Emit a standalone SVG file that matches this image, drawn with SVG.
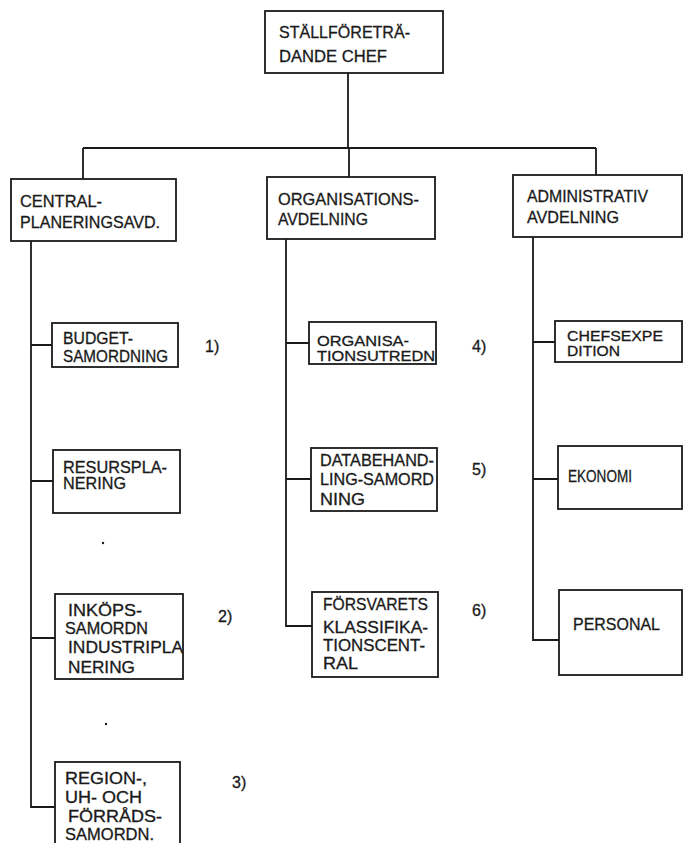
<svg xmlns="http://www.w3.org/2000/svg" width="683" height="843" viewBox="0 0 683 843">
<style>
.box{fill:#fff;stroke:#1a1a1a;stroke-width:1.8}
.ln{fill:none;stroke:#1a1a1a;stroke-width:1.8}
text{font-family:"Liberation Sans","DejaVu Sans",sans-serif;font-size:16px;fill:#1a1a1a;stroke:#1a1a1a;stroke-width:0.3}
.big{font-size:16.5px}
.sm{font-size:14.5px}
</style>
<rect width="683" height="843" fill="#fff"/>
<g id="connectors">
<path class="ln" d="M348 73V148M83 148H596M83 148V179M349 148V177M596 148V175"/>
<path class="ln" d="M31 241V807H55M31 345H52M31 481H53M31 638H55"/>
<path class="ln" d="M286 239V626H312M286 343H309M286 479H311"/>
<path class="ln" d="M533 237V640H559M533 342H555M533 479H558"/>
</g>
<g id="chef">
<rect class="box" x="265" y="11" width="178" height="62"/>
<text class="big" x="279" y="38" textLength="131" lengthAdjust="spacingAndGlyphs">STÄLLFÖRETRÄ-</text>
<text class="big" x="279" y="62" textLength="108" lengthAdjust="spacingAndGlyphs">DANDE CHEF</text>
</g>
<g id="central">
<rect class="box" x="11" y="179" width="165" height="62"/>
<text class="big" x="20" y="207" textLength="82" lengthAdjust="spacingAndGlyphs">CENTRAL-</text>
<text class="big" x="20" y="228" textLength="140" lengthAdjust="spacingAndGlyphs">PLANERINGSAVD.</text>
</g>
<g id="organisation">
<rect class="box" x="267" y="177" width="168" height="62"/>
<text class="big" x="278" y="205" textLength="141" lengthAdjust="spacingAndGlyphs">ORGANISATIONS-</text>
<text class="big" x="278" y="225" textLength="90" lengthAdjust="spacingAndGlyphs">AVDELNING</text>
</g>
<g id="administrativ">
<rect class="box" x="513" y="175" width="169" height="62"/>
<text class="big" x="527" y="202" textLength="121" lengthAdjust="spacingAndGlyphs">ADMINISTRATIV</text>
<text class="big" x="527" y="223" textLength="92" lengthAdjust="spacingAndGlyphs">AVDELNING</text>
</g>
<g id="budget">
<rect class="box" x="52" y="323" width="126" height="44"/>
<text x="63" y="344" textLength="70" lengthAdjust="spacingAndGlyphs">BUDGET-</text>
<text x="63" y="362" textLength="105" lengthAdjust="spacingAndGlyphs">SAMORDNING</text>
<text x="205" y="352">1)</text>
</g>
<g id="resurs">
<rect class="box" x="53" y="450" width="127" height="63"/>
<text x="63" y="473" textLength="104" lengthAdjust="spacingAndGlyphs">RESURSPLA-</text>
<text x="63" y="489" textLength="63" lengthAdjust="spacingAndGlyphs">NERING</text>
</g>
<g id="inkops">
<rect class="box" x="55" y="594" width="128" height="85"/>
<text x="68" y="616" textLength="74" lengthAdjust="spacingAndGlyphs">INKÖPS-</text>
<text x="65" y="634" textLength="83" lengthAdjust="spacingAndGlyphs">SAMORDN</text>
<text x="68" y="653" textLength="115" lengthAdjust="spacingAndGlyphs">INDUSTRIPLA</text>
<text x="68" y="673" textLength="67" lengthAdjust="spacingAndGlyphs">NERING</text>
<text x="218" y="622">2)</text>
</g>
<g id="region">
<rect class="box" x="55" y="762" width="125" height="90"/>
<text x="65" y="784" textLength="82" lengthAdjust="spacingAndGlyphs">REGION-,</text>
<text x="65" y="803" textLength="77" lengthAdjust="spacingAndGlyphs">UH- OCH</text>
<text x="68" y="822" textLength="94" lengthAdjust="spacingAndGlyphs">FÖRRÅDS-</text>
<text x="65" y="840" textLength="89" lengthAdjust="spacingAndGlyphs">SAMORDN.</text>
<text x="232" y="788">3)</text>
</g>
<g id="orgutredn">
<rect class="box" x="309" y="322" width="127" height="42"/>
<text class="sm" x="317" y="346" textLength="92" lengthAdjust="spacingAndGlyphs">ORGANISA-</text>
<text class="sm" x="317" y="361" textLength="118" lengthAdjust="spacingAndGlyphs">TIONSUTREDN</text>
<text x="472" y="352">4)</text>
</g>
<g id="databehandling">
<rect class="box" x="311" y="448" width="126" height="63"/>
<text x="320" y="466" textLength="114" lengthAdjust="spacingAndGlyphs">DATABEHAND-</text>
<text x="320" y="485" textLength="114" lengthAdjust="spacingAndGlyphs">LING-SAMORD</text>
<text x="320" y="505" textLength="45" lengthAdjust="spacingAndGlyphs">NING</text>
<text x="472" y="475">5)</text>
</g>
<g id="forsvarets">
<rect class="box" x="312" y="592" width="126" height="85"/>
<text x="323" y="610" textLength="105" lengthAdjust="spacingAndGlyphs">FÖRSVARETS</text>
<text x="323" y="633" textLength="105" lengthAdjust="spacingAndGlyphs">KLASSIFIKA-</text>
<text x="323" y="651" textLength="102" lengthAdjust="spacingAndGlyphs">TIONSCENT-</text>
<text x="323" y="669" textLength="35" lengthAdjust="spacingAndGlyphs">RAL</text>
<text x="472" y="616">6)</text>
</g>
<g id="chefsexpedition">
<rect class="box" x="555" y="321" width="127" height="41"/>
<text class="sm" x="567" y="341" textLength="96" lengthAdjust="spacingAndGlyphs">CHEFSEXPE</text>
<text class="sm" x="567" y="356" textLength="53" lengthAdjust="spacingAndGlyphs">DITION</text>
</g>
<g id="ekonomi">
<rect class="box" x="558" y="446" width="124" height="63"/>
<text x="568" y="482" textLength="64" lengthAdjust="spacingAndGlyphs">EKONOMI</text>
</g>
<g id="personal">
<rect class="box" x="559" y="590" width="123" height="85"/>
<text x="573" y="630" textLength="87" lengthAdjust="spacingAndGlyphs">PERSONAL</text>
</g>
<circle cx="103" cy="543" r="1.2" fill="#1a1a1a"/>
<circle cx="106" cy="724" r="1.2" fill="#1a1a1a"/>
</svg>
